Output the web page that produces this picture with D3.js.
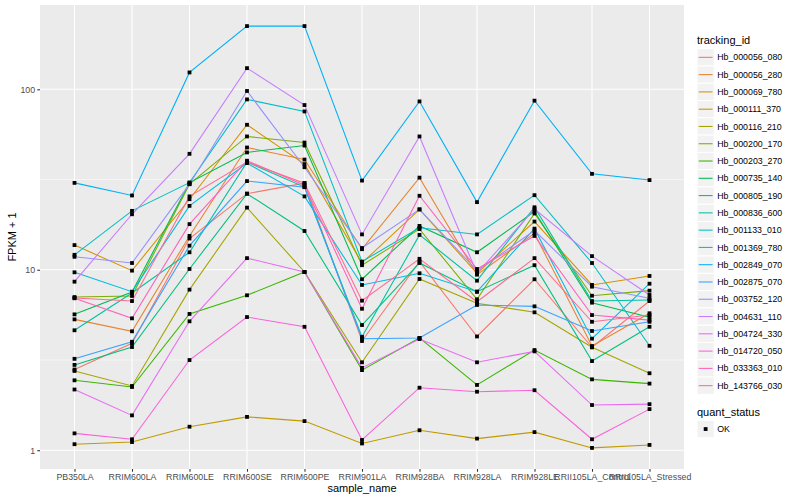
<!DOCTYPE html>
<html>
<head>
<meta charset="utf-8">
<script src="https://cdn.jsdelivr.net/npm/d3@7"></script>
<style>
body { margin: 0; background: #fff; }
text { font-family: "Liberation Sans", Arial, sans-serif; }
</style>
</head>
<body>
<main></main>
<script>
var samples = ["PB350LA", "RRIM600LA", "RRIM600LE", "RRIM600SE", "RRIM600PE", "RRIM901LA",
    "RRIM928BA", "RRIM928LA", "RRIM928LE", "RRII105LA_Control", "RRII105LA_Stressed"];

var trackingIds = ["Hb_000056_080", "Hb_000056_280", "Hb_000069_780", "Hb_000111_370", "Hb_000116_210",
    "Hb_000200_170", "Hb_000203_270", "Hb_000735_140", "Hb_000805_190", "Hb_000836_600",
    "Hb_001133_010", "Hb_001369_780", "Hb_002849_070", "Hb_002875_070", "Hb_003752_120",
    "Hb_004631_110", "Hb_004724_330", "Hb_014720_050", "Hb_033363_010", "Hb_143766_030"];

var colours = ["#F8766D", "#EA8331", "#D89000", "#C09B00", "#A3A500", "#7CAE00", "#39B600", "#00BB4E",
    "#00BF7D", "#00C1A3", "#00BFC4", "#00BAE0", "#00B0F6", "#35A2FF", "#9590FF", "#C77CFF",
    "#E76BF3", "#FA62DB", "#FF62BC", "#FF6C91"];

// FPKM + 1, one value per sample
var hb_000056_080 = [2.80, 3.91, 14.9, 26.4, 30.2, 4.03, 11.1, 4.27, 8.86, 3.72, 6.71];
var hb_000056_280 = [5.31, 4.56, 15.4, 47.6, 40.8, 13.0, 32.4, 9.39, 15.9, 3.78, 5.74];
var hb_000069_780 = [13.7, 9.89, 24.6, 63.6, 38.5, 10.9, 21.6, 9.56, 18.5, 8.24, 9.24];
var hb_000111_370 = [1.08, 1.11, 1.35, 1.53, 1.45, 1.09, 1.29, 1.16, 1.26, 1.03, 1.07];
var hb_000116_210 = [2.75, 2.27, 7.76, 22.1, 9.72, 3.07, 8.89, 6.52, 5.81, 3.72, 2.67];
var hb_000200_170 = [7.06, 7.16, 29.8, 54.8, 50.7, 10.6, 16.8, 6.86, 20.5, 7.18, 7.66];
var hb_000203_270 = [2.44, 2.24, 5.69, 7.22, 9.72, 2.78, 4.19, 2.30, 3.59, 2.47, 2.34];
var hb_000735_140 = [5.66, 7.53, 30.4, 44.7, 48.8, 8.86, 17.5, 12.5, 21.0, 6.57, 5.45];
var hb_000805_190 = [2.97, 3.73, 10.1, 26.4, 16.4, 4.94, 10.9, 7.56, 10.6, 3.12, 4.83];
var hb_000836_600 = [4.62, 7.43, 12.5, 39.5, 28.7, 4.25, 15.6, 8.70, 22.2, 6.71, 6.80];
var hb_001133_010 = [12.1, 21.2, 30.4, 87.9, 75.4, 11.1, 17.1, 15.7, 25.9, 10.9, 3.79];
var hb_001369_780 = [9.68, 7.56, 22.6, 39.0, 25.5, 8.24, 9.56, 7.56, 16.9, 4.15, 8.37];
var hb_002849_070 = [30.3, 25.8, 124, 224, 224, 31.2, 85.7, 23.7, 86.5, 34.0, 31.4];
var hb_002875_070 = [3.21, 3.99, 13.6, 31.0, 28.7, 4.15, 4.19, 6.38, 6.27, 4.58, 5.15];
var hb_003752_120 = [11.8, 10.9, 29.8, 97.9, 37.0, 13.2, 21.6, 9.89, 16.5, 8.06, 6.95];
var hb_004631_110 = [8.59, 20.3, 43.9, 131, 81.8, 15.7, 54.8, 9.56, 21.7, 11.9, 7.25];
var hb_004724_330 = [2.17, 1.56, 5.18, 11.6, 9.72, 2.86, 4.13, 3.07, 3.53, 1.78, 1.80];
var hb_014720_050 = [1.24, 1.15, 3.16, 5.47, 4.83, 1.14, 2.22, 2.11, 2.15, 1.15, 1.69];
var hb_033363_010 = [6.95, 5.38, 17.9, 40.2, 29.4, 6.08, 25.7, 10.1, 15.4, 5.61, 5.26];
var hb_143766_030 = [6.98, 6.71, 25.5, 39.5, 30.2, 6.74, 11.5, 6.65, 11.6, 5.15, 5.61];

var yTicks = [1, 10, 100];
var yMinor = [3.1623, 31.623];

var fpkm = [hb_000056_080, hb_000056_280, hb_000069_780, hb_000111_370, hb_000116_210,
    hb_000200_170, hb_000203_270, hb_000735_140, hb_000805_190, hb_000836_600,
    hb_001133_010, hb_001369_780, hb_002849_070, hb_002875_070, hb_003752_120,
    hb_004631_110, hb_004724_330, hb_014720_050, hb_033363_010, hb_143766_030];

var pLeft = 40, pRight = 684, pTop = 5, pBottom = 469;

var svg = d3.select("main").append("svg")
    .attr("width", 800)
    .attr("height", 500);

var x = d3.scalePoint().domain(samples).range([pLeft, pRight]).padding(0.6);

var all = [].concat.apply([], fpkm);
var lo = Math.log10(d3.min(all)), hi = Math.log10(d3.max(all));
var pad = (hi - lo) * 0.05;
var y = d3.scaleLog().domain([Math.pow(10, lo - pad), Math.pow(10, hi + pad)]).range([pBottom, pTop]);

svg.append("rect")
    .attr("x", pLeft).attr("y", pTop)
    .attr("width", pRight - pLeft).attr("height", pBottom - pTop)
    .attr("fill", "#EBEBEB");

svg.selectAll(".minor").data(yMinor).enter().append("line")
    .attr("x1", pLeft).attr("x2", pRight)
    .attr("y1", function(d) { return y(d); }).attr("y2", function(d) { return y(d); })
    .attr("stroke", "#fff").attr("stroke-width", 0.53);

svg.selectAll(".hgrid").data(yTicks).enter().append("line")
    .attr("x1", pLeft).attr("x2", pRight)
    .attr("y1", function(d) { return y(d); }).attr("y2", function(d) { return y(d); })
    .attr("stroke", "#fff").attr("stroke-width", 1.07);

svg.selectAll(".vgrid").data(samples).enter().append("line")
    .attr("y1", pTop).attr("y2", pBottom)
    .attr("x1", function(d) { return x(d); }).attr("x2", function(d) { return x(d); })
    .attr("stroke", "#fff").attr("stroke-width", 1.07);

// lines
var line = d3.line()
    .x(function(d, i) { return x(samples[i]); })
    .y(function(d) { return y(d); });

for (var s = 0; s < fpkm.length; s++) {
    svg.append("path")
        .attr("d", line(fpkm[s]))
        .attr("fill", "none")
        .attr("stroke", colours[s])
        .attr("stroke-width", 1.07);
}

// points
for (var s = 0; s < fpkm.length; s++) {
    svg.selectAll(".pt" + s).data(fpkm[s]).enter().append("rect")
        .attr("x", function(d, i) { return x(samples[i]) - 1.9; })
        .attr("y", function(d) { return y(d) - 1.9; })
        .attr("width", 3.8).attr("height", 3.8)
        .attr("fill", "#000");
}

// axes
var yAxis = svg.append("g")
    .attr("transform", "translate(" + pLeft + ",0)")
    .call(d3.axisLeft(y).tickValues(yTicks).tickFormat(d3.format("d")).tickSize(2.74).tickPadding(2.2));
var xAxis = svg.append("g")
    .attr("transform", "translate(0," + pBottom + ")")
    .call(d3.axisBottom(x).tickSize(2.74).tickPadding(2.2));

[yAxis, xAxis].forEach(function(g) {
    g.select(".domain").remove();
    g.selectAll(".tick line").attr("stroke", "#333333").attr("stroke-width", 1.07);
    g.selectAll(".tick text")
        .attr("fill", "#4D4D4D")
        .style("font-size", "8.8px")
        .style("font-family", "'Liberation Sans', Arial, sans-serif");
});

svg.append("text")
    .attr("x", (pLeft + pRight) / 2).attr("y", 492)
    .attr("text-anchor", "middle")
    .style("font-size", "11px")
    .text("sample_name");

svg.append("text")
    .attr("transform", "translate(16," + ((pTop + pBottom) / 2) + ") rotate(-90)")
    .attr("text-anchor", "middle")
    .style("font-size", "11px")
    .text("FPKM + 1");

// legend
var lx = 697, ly = 48.7, key = 17.28;
svg.append("text")
    .attr("x", lx).attr("y", 44)
    .style("font-size", "11px")
    .text("tracking_id");

for (var k = 0; k < trackingIds.length; k++) {
    var ky = ly + k * key;
    svg.append("rect")
        .attr("x", lx).attr("y", ky)
        .attr("width", key).attr("height", key)
        .attr("fill", "#F2F2F2").attr("stroke", "#fff").attr("stroke-width", 1);
    svg.append("line")
        .attr("x1", lx + 1.7).attr("x2", lx + key - 1.7)
        .attr("y1", ky + key / 2).attr("y2", ky + key / 2)
        .attr("stroke", colours[k]).attr("stroke-width", 1.07);
    svg.append("text")
        .attr("x", lx + key + 2.9).attr("y", ky + key / 2 + 3.1)
        .style("font-size", "8.8px")
        .text(trackingIds[k]);
}

svg.append("text")
    .attr("x", lx).attr("y", 416)
    .style("font-size", "11px")
    .text("quant_status");

var oy = 420.4;
svg.append("rect")
    .attr("x", lx).attr("y", oy)
    .attr("width", key).attr("height", key)
    .attr("fill", "#F2F2F2").attr("stroke", "#fff").attr("stroke-width", 1);
svg.append("rect")
    .attr("x", lx + key / 2 - 1.9).attr("y", oy + key / 2 - 1.9)
    .attr("width", 3.8).attr("height", 3.8)
    .attr("fill", "#000");
svg.append("text")
    .attr("x", lx + key + 2.9).attr("y", oy + key / 2 + 3.1)
    .style("font-size", "8.8px")
    .text("OK");
</script>
</body>
</html>
